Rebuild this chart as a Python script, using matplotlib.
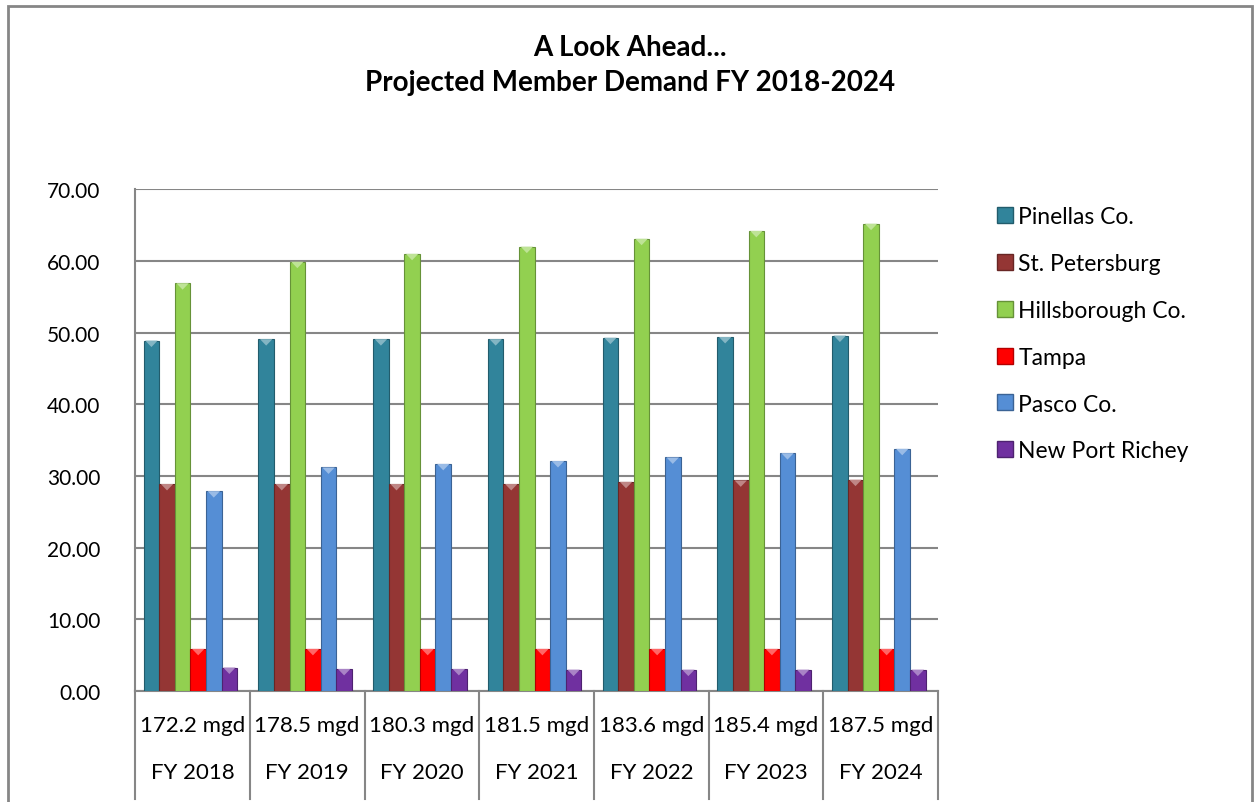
import numpy as np
import matplotlib.pyplot as plt
from matplotlib.patches import Polygon, Rectangle
from matplotlib.lines import Line2D
import matplotlib.colors as mcolors
import matplotlib.transforms as mtransforms

plt.rcParams['font.family'] = ['Lato', 'DejaVu Sans']

years = ['FY 2018', 'FY 2019', 'FY 2020', 'FY 2021', 'FY 2022', 'FY 2023', 'FY 2024']
totals = ['172.2 mgd', '178.5 mgd', '180.3 mgd', '181.5 mgd', '183.6 mgd', '185.4 mgd', '187.5 mgd']
series = ['Pinellas Co.', 'St. Petersburg', 'Hillsborough Co.', 'Tampa', 'Pasco Co.', 'New Port Richey']
pinellas = [48.9, 49.1, 49.1, 49.1, 49.3, 49.4, 49.6]
st_pete = [28.9, 28.9, 28.9, 28.9, 29.2, 29.4, 29.5]
hillsborough = [56.9, 59.9, 61.0, 62.0, 63.1, 64.2, 65.2]
tampa = [5.9, 5.9, 5.9, 5.9, 5.9, 5.9, 5.9]
pasco = [27.9, 31.2, 31.7, 32.1, 32.6, 33.2, 33.8]
new_port_richey = [3.3, 3.1, 3.1, 3.0, 3.0, 3.0, 3.0]
values = [pinellas, st_pete, hillsborough, tampa, pasco, new_port_richey]
colors = ['#31849B', '#943634', '#92D050', '#FF0000', '#558ED5', '#7030A0']

fig = plt.figure(figsize=(12.55, 8.03), dpi=100)
fig.patches.append(Rectangle((0.006, -0.1), 0.992, 1.091, transform=fig.transFigure,
                             fill=False, edgecolor='#868686', linewidth=2))

ax = fig.add_axes([0.1076, 0.138, 0.640, 0.625])
x = np.arange(len(years))
n = len(series)
w = 0.815 / n
start = -0.5 + 0.075

for i, (name, vals, c) in enumerate(zip(series, values, colors)):
    dark = np.array(mcolors.to_rgb(c)) * 0.7
    light = np.clip(np.array(mcolors.to_rgb(c)) * 0.6 + 0.4, 0, 1)
    bars = ax.bar(x + start + (i + 0.5) * w, vals, w, color=c, edgecolor=dark,
                  linewidth=0.8, label=name, zorder=3)
    for b in bars:
        bx, bw, bh = b.get_x(), b.get_width(), b.get_height()
        tri = Polygon([[bx + 0.1 * bw, bh], [bx + 0.9 * bw, bh], [bx + 0.5 * bw, bh - 0.9]],
                      closed=True, facecolor=light, edgecolor='none', zorder=4)
        ax.add_patch(tri)

ax.set_xlim(-0.5, len(years) - 0.5)
ax.set_ylim(0, 70)
ax.set_yticks(np.arange(0, 71, 10))
ax.set_yticklabels([f'{v:.2f}' for v in np.arange(0, 71, 10)], fontsize=15)
ax.tick_params(axis='y', length=0, pad=25)
ax.tick_params(axis='x', length=0, labelbottom=False)
ax.grid(axis='y', color='#868686', linewidth=1.5, zorder=0)
for s in ['top', 'right']:
    ax.spines[s].set_visible(False)
ax.spines['left'].set_color('#868686')
ax.spines['bottom'].set_color('#868686')
ax.spines['left'].set_linewidth(1.5)
ax.spines['bottom'].set_linewidth(1.5)

# two-level category labels under the axis
trans = mtransforms.blended_transform_factory(ax.transData, ax.transAxes)
for k in range(len(years)):
    ax.text(x[k], -0.068, totals[k], transform=trans, ha='center', va='center', fontsize=16)
    ax.text(x[k], -0.162, years[k], transform=trans, ha='center', va='center', fontsize=16)
for k in range(len(years) + 1):
    ax.add_line(Line2D([k - 0.5, k - 0.5], [0, -0.215], transform=trans, color='#868686',
                       linewidth=1.5, clip_on=False))

fig.text(0.502, 0.918, 'A Look Ahead...\nProjected Member Demand FY 2018-2024',
         ha='center', va='center', fontsize=20, fontweight='bold', linespacing=1.42)

handles = [Line2D([], [], marker='s', linestyle='none', markersize=11, markerfacecolor=c,
                  markeredgecolor=np.array(mcolors.to_rgb(c)) * 0.7) for c in colors]
fig.legend(handles, series, loc='upper left', bbox_to_anchor=(0.775, 0.768), frameon=False,
           fontsize=16.5, labelspacing=1.13, handletextpad=0.1, handlelength=1.0)

fig.savefig('out.png', dpi=100)
